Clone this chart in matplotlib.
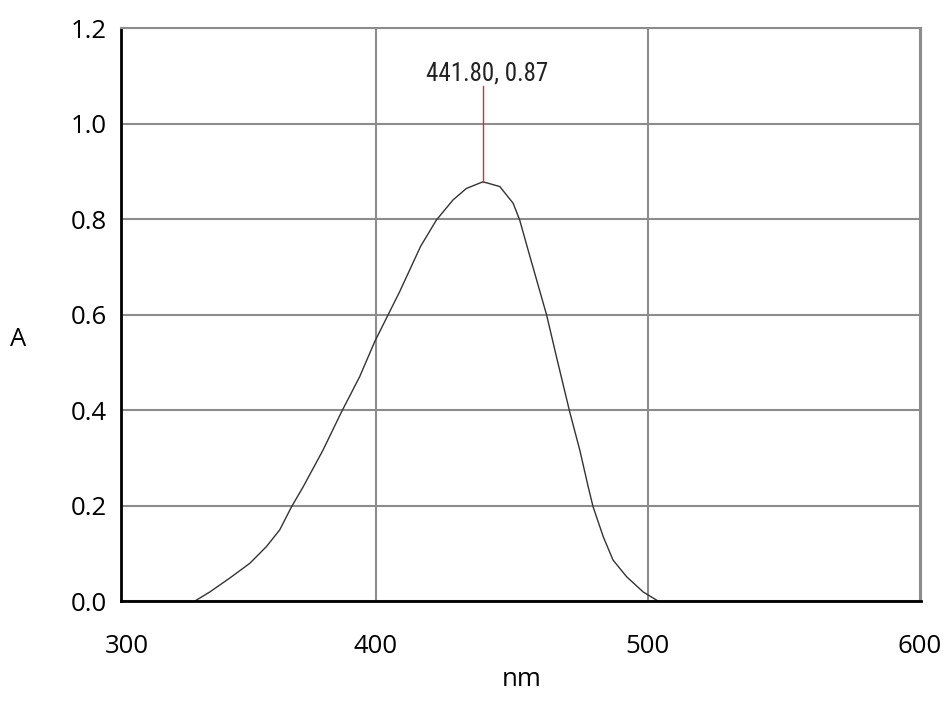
import numpy as np
import matplotlib.pyplot as plt
from matplotlib import font_manager

# spectrum
wavelength = [333.5, 339.0, 346.3, 353.7, 359.8, 364.7, 369.0, 373.3, 380.6,
              387.4, 394.1, 399.6, 404.5, 408.8, 416.5, 422.3, 428.4, 433.3,
              439.4, 445.6, 450.5, 452.9, 456.0, 462.8, 466.4, 471.3, 475.0,
              478.1, 479.9, 483.6, 487.2, 492.2, 498.3, 503.8]
absorbance = [0.0, 0.019, 0.048, 0.079, 0.114, 0.149, 0.197, 0.239, 0.316,
              0.396, 0.470, 0.543, 0.599, 0.648, 0.743, 0.798, 0.840, 0.864,
              0.878, 0.868, 0.833, 0.798, 0.735, 0.599, 0.512, 0.396, 0.316,
              0.239, 0.197, 0.135, 0.086, 0.051, 0.019, 0.0]
peak_label = "441.80, 0.87"
x_ticks = [400, 500, 600]
y_ticks = [0.0, 0.2, 0.4, 0.6, 0.8, 1.0, 1.2]

plt.rcParams["font.family"] = ["Open Sans", "DejaVu Sans"]

# narrow font for the peak label, whichever is installed
names = {f.name for f in font_manager.fontManager.ttflist}
stretches = {(f.name, f.stretch) for f in font_manager.fontManager.ttflist}
narrow = None
for cand in ["Liberation Sans Narrow", "Roboto Condensed", "Open Sans Condensed",
             "DejaVu Sans Condensed", "Noto Sans Condensed"]:
    if cand in names:
        narrow = dict(family=[cand, "DejaVu Sans"])
        break
if narrow is None:
    cond = [n for (n, s) in stretches if s in ("condensed", 400 - 100, 300, "semi-condensed")]
    if ("DejaVu Sans", "condensed") in stretches or ("DejaVu Sans", 300) in stretches:
        narrow = dict(family=["DejaVu Sans"], stretch="condensed")
    elif cond:
        narrow = dict(family=[sorted(cond)[0], "DejaVu Sans"], stretch="condensed")
    else:
        narrow = dict(family=["DejaVu Sans"])

fig = plt.figure(figsize=(9.44, 7.13), dpi=100)
ax = fig.add_axes([0.128, 0.157, 0.8476, 0.8037])

ax.plot(wavelength, absorbance, color="#333333", lw=1)

# peak marker
i = int(np.argmax(absorbance))
ax.plot([wavelength[i], wavelength[i]], [absorbance[i], 1.078], color="#e8262e", lw=1)
ax.text(wavelength[i] + 1.5, 1.091, peak_label, ha="center", va="baseline",
        fontsize=18, color="#222222", **narrow)

ax.set_xlim(306.3, 600.4)
ax.set_ylim(0, 1.2)
ax.set_xticks(x_ticks)
ax.set_yticks(y_ticks)
ax.set_yticklabels([f"{v:.1f}" for v in y_ticks])
ax.tick_params(length=0, labelsize=18.5)
ax.tick_params(axis="y", pad=10)
ax.tick_params(axis="x", pad=24)
ax.annotate("300", xy=(0, 0), xycoords="axes fraction", xytext=(4, -24),
            textcoords="offset points", ha="center", va="top", fontsize=18.5)

ax.grid(True, color="#8c8c8c", lw=1.5)
for s in ["top", "right"]:
    ax.spines[s].set_color("#8c8c8c")
    ax.spines[s].set_linewidth(1.5)
for s in ["left", "bottom"]:
    ax.spines[s].set_color("black")
    ax.spines[s].set_linewidth(2)

fig.text(522 / 944, 1 - 680 / 713, "nm", ha="center", va="center", fontsize=18.5)
fig.text(18 / 944, 1 - 340 / 713, "A", ha="center", va="center", fontsize=18.5)

fig.savefig("out.png", dpi=100)
